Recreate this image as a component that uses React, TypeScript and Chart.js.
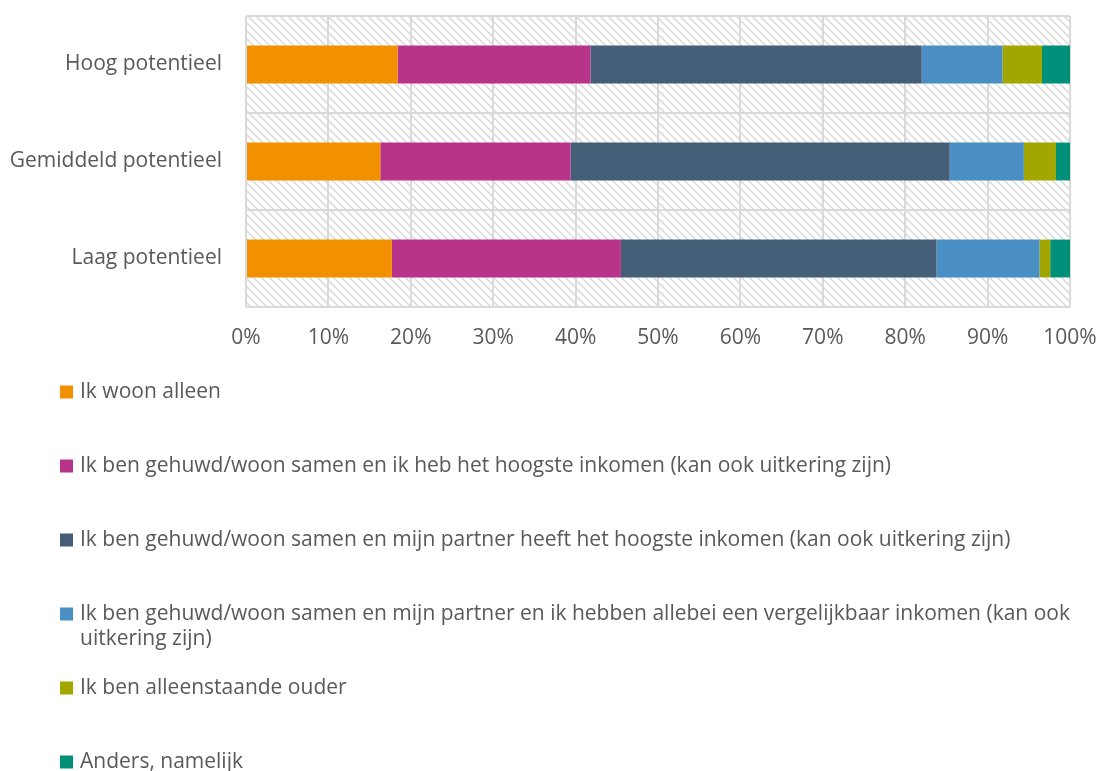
import React, { useEffect, useRef } from 'react';
import { Chart, registerables } from 'chart.js';

Chart.register(...registerables);

const categories = ['Hoog potentieel', 'Gemiddeld potentieel', 'Laag potentieel'];

const seriesLabels = [
  'Ik woon alleen',
  'Ik ben gehuwd/woon samen en ik heb het hoogste inkomen (kan ook uitkering zijn)',
  'Ik ben gehuwd/woon samen en mijn partner heeft het hoogste inkomen (kan ook uitkering zijn)',
  'Ik ben gehuwd/woon samen en mijn partner en ik hebben allebei een vergelijkbaar inkomen (kan ook uitkering zijn)',
  'Ik ben alleenstaande ouder',
  'Anders, namelijk',
];

const seriesColors = ['#F29100', '#B8348A', '#455E78', '#4A8FC4', '#A3A600', '#00907A'];

const woonAlleen = [18.4, 16.3, 17.7];
const ikHoogsteInkomen = [23.4, 23.1, 27.8];
const partnerHoogsteInkomen = [40.2, 46.0, 38.3];
const vergelijkbaarInkomen = [9.8, 9.0, 12.5];
const alleenstaandeOuder = [4.8, 3.9, 1.3];
const anders = [3.4, 1.7, 2.4];

const seriesValues = [
  woonAlleen,
  ikHoogsteInkomen,
  partnerHoogsteInkomen,
  vergelijkbaarInkomen,
  alleenstaandeOuder,
  anders,
];

const xTickValues = [0, 10, 20, 30, 40, 50, 60, 70, 80, 90, 100];

const FONT = '"Open Sans", sans-serif';
const FONT_SIZE = 21;
const TEXT_COLOR = '#595959';
const GRID_COLOR = '#D9D9D9';

function makeHatch(ctx: CanvasRenderingContext2D): CanvasPattern | string {
  const c = document.createElement('canvas');
  c.width = 8;
  c.height = 8;
  const p = c.getContext('2d');
  if (!p) return '#fff';
  p.fillStyle = '#ffffff';
  p.fillRect(0, 0, 8, 8);
  p.strokeStyle = '#DDDDDD';
  p.lineWidth = 1.6;
  p.beginPath();
  p.moveTo(-2, -2);
  p.lineTo(10, 10);
  p.moveTo(-10, -2);
  p.lineTo(2, 10);
  p.moveTo(6, -2);
  p.lineTo(18, 10);
  p.stroke();
  return ctx.createPattern(c, 'repeat') || '#fff';
}

const hatchPlugin = {
  id: 'hatchBg',
  beforeDraw(chart: any) {
    const { ctx, chartArea } = chart;
    ctx.save();
    ctx.fillStyle = makeHatch(ctx);
    ctx.fillRect(chartArea.left, chartArea.top, chartArea.right - chartArea.left, chartArea.bottom - chartArea.top);
    ctx.restore();
  },
};

function wrap(ctx: CanvasRenderingContext2D, text: string, maxW: number): string[] {
  const words = text.split(' ');
  const lines: string[] = [];
  let cur = '';
  for (const w of words) {
    const t = cur ? cur + ' ' + w : w;
    if (ctx.measureText(t).width > maxW && cur) {
      lines.push(cur);
      cur = w;
    } else cur = t;
  }
  if (cur) lines.push(cur);
  return lines;
}

const legendPlugin = {
  id: 'customLegend',
  afterDraw(chart: any) {
    const { ctx } = chart;
    const startY = chart.chartArea.bottom + 85;
    const step = 74;
    const boxX = 60;
    const textX = 80;
    const lineH = 25;
    ctx.save();
    ctx.font = `${FONT_SIZE}px ${FONT}`;
    ctx.textBaseline = 'middle';
    ctx.textAlign = 'left';
    chart.data.datasets.forEach((ds: any, i: number) => {
      const y = startY + i * step;
      ctx.fillStyle = ds.backgroundColor;
      ctx.fillRect(boxX, y - 6.5, 13, 13);
      ctx.fillStyle = TEXT_COLOR;
      const lines = wrap(ctx, ds.label, 1005);
      lines.forEach((ln, k) => ctx.fillText(ln, textX, y + k * lineH));
    });
    ctx.restore();
  },
};

function zeroPad(scale: any) {
  scale.paddingTop = 0;
  scale.paddingBottom = 0;
  scale.paddingLeft = 0;
  scale.paddingRight = 0;
}

export default function App() {
  const ref = useRef<HTMLCanvasElement>(null);

  useEffect(() => {
    document.body.style.margin = '0';
    if (!ref.current) return;
    const chart = new Chart(ref.current, {
      type: 'bar',
      data: {
        labels: categories,
        datasets: seriesLabels.map((label, i) => ({
          label,
          data: seriesValues[i],
          backgroundColor: seriesColors[i],
          borderWidth: 0,
          categoryPercentage: 1,
          barPercentage: 0.39,
        })),
      },
      options: {
        indexAxis: 'y',
        animation: false,
        responsive: false,
        maintainAspectRatio: false,
        layout: { padding: { top: 16, right: 28, left: 0, bottom: 404 } },
        plugins: {
          legend: { display: false },
          tooltip: { enabled: false },
        },
        scales: {
          x: {
            type: 'linear',
            stacked: true,
            min: 0,
            max: 100,
            afterBuildTicks(scale: any) {
              scale.ticks = xTickValues.map((v) => ({ value: v }));
            },
            afterFit(scale: any) {
              scale.height = 60;
              zeroPad(scale);
            },
            ticks: {
              callback: (v: any) => `${v}%`,
              color: TEXT_COLOR,
              font: { family: FONT, size: FONT_SIZE },
              padding: 18,
              maxRotation: 0,
            },
            grid: { color: GRID_COLOR, lineWidth: 2, drawTicks: false },
            border: { display: false },
          },
          y: {
            stacked: true,
            afterFit(scale: any) {
              scale.width = 246;
              zeroPad(scale);
            },
            ticks: {
              color: TEXT_COLOR,
              font: { family: FONT, size: FONT_SIZE },
              padding: 24,
            },
            grid: { color: GRID_COLOR, lineWidth: 2, drawTicks: false, offset: true },
            border: { display: false },
          },
        },
      },
      plugins: [hatchPlugin, legendPlugin],
    } as any);
    return () => chart.destroy();
  }, []);

  return (
    <div style={{ width: 1098, height: 771, background: '#fff' }}>
      <canvas ref={ref} width={1098} height={771} style={{ display: 'block', width: 1098, height: 771 }} />
    </div>
  );
}
